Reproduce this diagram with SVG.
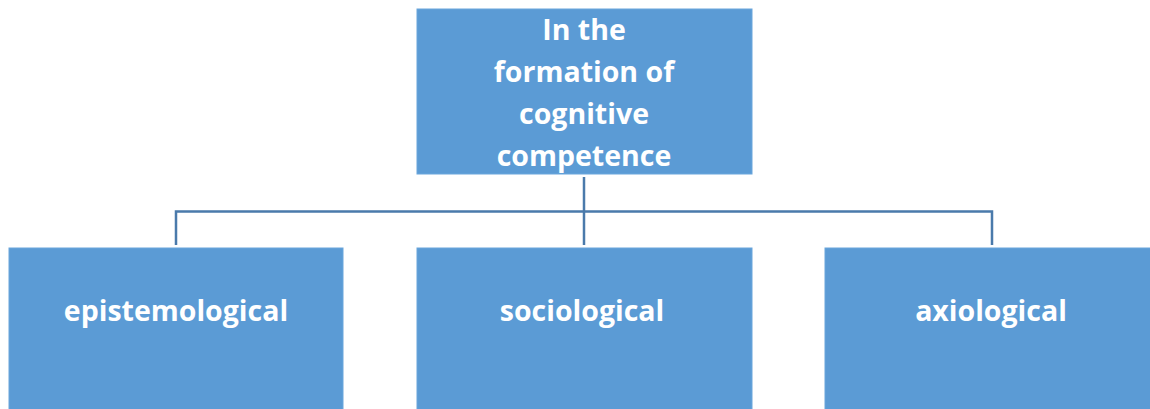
<svg xmlns="http://www.w3.org/2000/svg" width="1150" height="409" viewBox="0 0 1150 409">
<style>
.box{fill:#5b9bd5;stroke:#6aa6dc;stroke-width:1}
.lbl{font-family:"Open Sans",Lato,sans-serif;font-weight:bold;font-size:28.5px;fill:#ffffff;text-anchor:middle;font-variant-ligatures:none}
.conn{stroke:#4a7aab;stroke-width:2.5;fill:none}
</style>
<rect width="1150" height="409" fill="#ffffff"/>
<g id="connectors">
<path class="conn" d="M584 177 V245"/>
<path class="conn" d="M176 245 V211.5 H992 V245"/>
</g>
<g id="top">
<rect class="box" x="417" y="9" width="335" height="165"/>
<text class="lbl" x="584" y="40">In the</text>
<text class="lbl" x="584" y="82">formation of</text>
<text class="lbl" x="584" y="124">cognitive</text>
<text class="lbl" x="584" y="166">competence</text>
</g>
<g id="epistemological">
<rect class="box" x="9" y="248" width="334" height="170"/>
<text class="lbl" x="176" y="321">epistemological</text>
</g>
<g id="sociological">
<rect class="box" x="417" y="248" width="335" height="170"/>
<text class="lbl" x="582" y="321">sociological</text>
</g>
<g id="axiological">
<rect class="box" x="825" y="248" width="335" height="170"/>
<text class="lbl" x="991" y="321">axiological</text>
</g>
</svg>
